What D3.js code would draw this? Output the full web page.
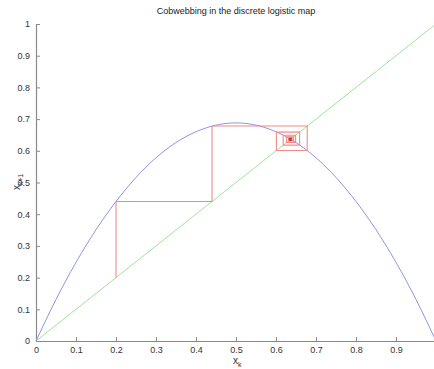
<!DOCTYPE html>
<html>
<head>
<meta charset="utf-8">
<script src="https://cdn.jsdelivr.net/npm/d3@7"></script>
<style>
  body { margin: 0; background: #fff; }
  text { font-family: "Liberation Sans", Arial, sans-serif; }
</style>
</head>
<body>
<div id="chart"></div>
<script>
// data
const curveX = [0, 0.05, 0.1, 0.15, 0.2, 0.25, 0.3, 0.35, 0.4, 0.45, 0.5, 0.55, 0.6, 0.65, 0.7, 0.75, 0.8, 0.85, 0.9, 0.95, 1]
const curveY = [0, 0.131, 0.248, 0.351, 0.44, 0.516, 0.578, 0.626, 0.66, 0.681, 0.688, 0.681, 0.66, 0.626, 0.578, 0.516, 0.44, 0.351, 0.248, 0.131, 0]
const diagonal = [0, 1]
const iterates = [0.2, 0.44, 0.678, 0.601, 0.659, 0.618, 0.649, 0.626, 0.644, 0.631, 0.640, 0.634, 0.638, 0.635, 0.637, 0.636]
const fixedPoint = 0.636
const ticks = [0, 0.1, 0.2, 0.3, 0.4, 0.5, 0.6, 0.7, 0.8, 0.9, 1]

const width = 434
const height = 369

const svg = d3.select("#chart")
  .append("svg")
  .attr("width", width)
  .attr("height", height)

const x = d3.scaleLinear().domain([0, 1]).range([36, 436])
const y = d3.scaleLinear().domain([0, 1]).range([341, 24])

// axes
const xAxis = d3.axisBottom(x).tickValues(ticks.slice(0, 10)).tickSizeInner(-4).tickSizeOuter(0).tickPadding(6)
  .tickFormat(d3.format("~g"))
const yAxis = d3.axisLeft(y).tickValues(ticks).tickSizeInner(-4).tickSizeOuter(0).tickPadding(6)
  .tickFormat(d3.format("~g"))

const gx = svg.append("g").attr("transform", "translate(0," + y(0) + ")").call(xAxis)
const gy = svg.append("g").attr("transform", "translate(" + x(0) + ",0)").call(yAxis)

;[gx, gy].forEach(g => {
  g.select(".domain").attr("stroke", "#8a8a8a").attr("stroke-width", 1.2)
  g.selectAll(".tick line").attr("stroke", "#8a8a8a")
  g.selectAll(".tick text").attr("fill", "#333").style("font-size", "9px")
})

// diagonal y = x
svg.append("path")
  .datum(diagonal)
  .attr("fill", "none")
  .attr("stroke", "#9be49b")
  .attr("stroke-width", 1)
  .attr("d", d3.line().x(d => x(d)).y(d => y(d)))

// logistic map curve
const pts = curveX.map((v, i) => [v, curveY[i]])
svg.append("path")
  .datum(pts)
  .attr("fill", "none")
  .attr("stroke", "#9494e6")
  .attr("stroke-width", 1)
  .attr("d", d3.line().x(d => x(d[0])).y(d => y(d[1])).curve(d3.curveNatural))

// cobweb
const web = [[iterates[0], iterates[0]]]
for (let i = 0; i < iterates.length - 1; i++) {
  web.push([iterates[i], iterates[i + 1]])
  web.push([iterates[i + 1], iterates[i + 1]])
}
svg.append("path")
  .datum(web)
  .attr("fill", "none")
  .attr("stroke", "#f08a8a")
  .attr("stroke-width", 1.1)
  .attr("d", d3.line().x(d => x(d[0])).y(d => y(d[1])))

svg.append("circle")
  .attr("cx", x(fixedPoint))
  .attr("cy", y(fixedPoint))
  .attr("r", 1.8)
  .attr("fill", "#e0303a")

// title and labels
svg.append("text")
  .attr("x", 236)
  .attr("y", 14)
  .attr("text-anchor", "middle")
  .style("font-size", "9px")
  .attr("fill", "#222")
  .text("Cobwebbing in the discrete logistic map")

const xl = svg.append("text")
  .attr("x", 233)
  .attr("y", 364)
  .attr("fill", "#333")
  .style("font-size", "10px")
xl.append("tspan").text("x")
xl.append("tspan").attr("dy", 3).style("font-size", "7px").text("k")

const yl = svg.append("text")
  .attr("transform", "translate(20,190) rotate(-90)")
  .attr("fill", "#333")
  .style("font-size", "10px")
yl.append("tspan").text("x")
yl.append("tspan").attr("dy", 3).style("font-size", "7px").text("k+1")
</script>
</body>
</html>
